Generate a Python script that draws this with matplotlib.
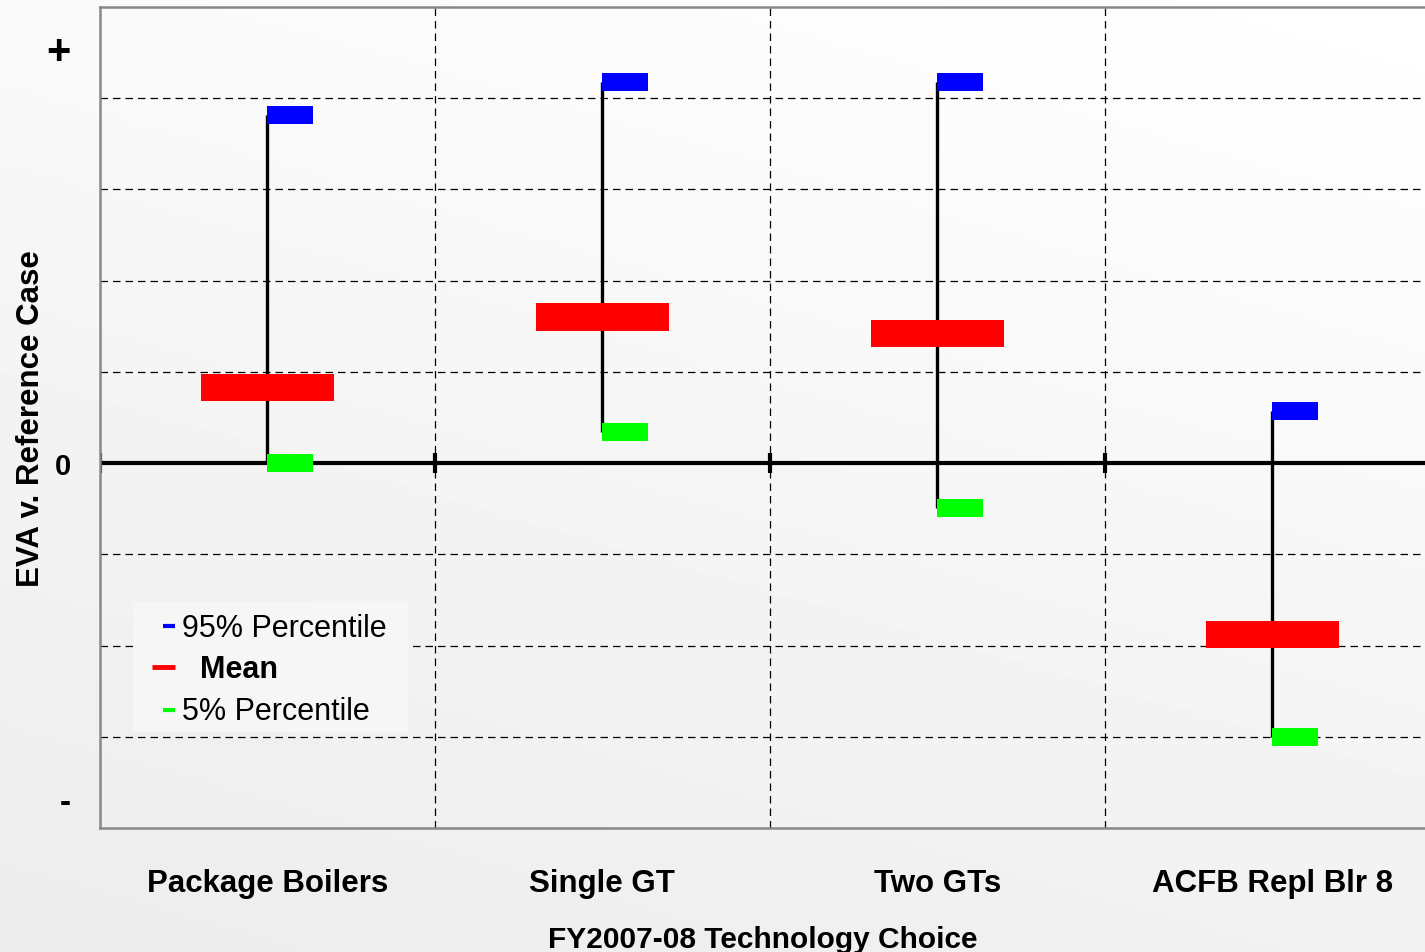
"""EVA v. reference case range chart (5% / mean / 95%) per technology choice."""
import numpy as np
import matplotlib
matplotlib.use("Agg")
import matplotlib.pyplot as plt

plt.rcParams["font.family"] = ["Liberation Sans", "DejaVu Sans"]

categories = ["Package Boilers", "Single GT", "Two GTs", "ACFB Repl Blr 8"]
p95 = [3.82, 4.18, 4.18, 0.57]
mean = [0.83, 1.60, 1.42, -1.88]
p5 = [0.0, 0.34, -0.49, -3.0]
ytick_vals = [4.56, 0.0, -3.68]
ytick_labels = ["+", "0", "-"]
legend_labels = ["95% Percentile", "Mean", "5% Percentile"]

W, H = 1425, 953
fig = plt.figure(figsize=(W / 100, H / 100), dpi=100)

# soft grey gradient backdrop
bg = fig.add_axes([0, 0, 1, 1], zorder=-10)
yy, xx = np.mgrid[0:1:200j, 0:1:300j]
shade = 1.0 - 0.075 * (0.7 * yy + 0.3 * (1 - xx))
bg.imshow(shade, cmap="gray", vmin=0, vmax=1, aspect="auto", extent=[0, 1, 0, 1])
bg.set_axis_off()


def fx(px):
    return (px - 100) / 1325


def fy(py):
    return (829 - py) / 821


ax = fig.add_axes([100 / W, 1 - 829 / H, 1325 / W, 821 / H])
ax.set_facecolor("none")
ax.set_xlim(-0.5, 3.456)
ax.set_ylim(-4, 5)

x = np.arange(len(categories))

# grid
for gy in [-3, -2, -1, 1, 2, 3, 4]:
    ax.axhline(gy, color="black", lw=0.9, ls=(0, (6, 4)), zorder=1)
for gx in [0.5, 1.5, 2.5]:
    ax.axvline(gx, color="black", lw=0.9, ls=(0, (6, 4)), zorder=1)

# zero line with category ticks
ax.axhline(0, color="black", lw=3, zorder=2)
ax.vlines([-0.5, 0.5, 1.5, 2.5], -0.11, 0.11, color="black", lw=3, zorder=2)

# whiskers and markers
ax.vlines(x, p5, p95, color="black", lw=2.4, zorder=3)
ax.bar(x, 0.3, bottom=np.array(mean) - 0.15, width=0.397, color="#ff0000", zorder=4)
ax.bar(x + 0.0685, 0.2, bottom=np.array(p95) - 0.1, width=0.137, color="#0000ff", zorder=4)
ax.bar(x + 0.0685, 0.2, bottom=np.array(p5) - 0.1, width=0.137, color="#00ff00", zorder=4)

# axes styling
for s in ["left", "top", "bottom"]:
    ax.spines[s].set_color("#888888")
    ax.spines[s].set_linewidth(1.8)
ax.spines["right"].set_visible(False)
ax.set_xticks(x)
ax.set_xticklabels(categories, fontsize=22.5, fontweight="bold")
ax.set_yticks(ytick_vals)
ax.set_yticklabels(ytick_labels, fontweight="bold")
for lab, size in zip(ax.get_yticklabels(), [30, 21, 24]):
    lab.set_fontsize(size)
ax.tick_params(axis="both", length=0)
ax.tick_params(axis="x", pad=29)
ax.tick_params(axis="y", pad=21)
ax.set_xlabel("FY2007-08 Technology Choice", fontsize=21.5, fontweight="bold", labelpad=19)
ax.set_ylabel("EVA v. Reference Case", fontsize=22.5, fontweight="bold", labelpad=0)

# hand-drawn legend
ax.add_patch(plt.Rectangle((fx(133), fy(733)), fx(408) - fx(133), fy(603) - fy(733),
                           transform=ax.transAxes, facecolor="#f6f6f6", edgecolor="none", zorder=5))
ax.plot([fx(163), fx(175)], [fy(627)] * 2, transform=ax.transAxes, color="#0000ff", lw=3,
        solid_capstyle="butt", zorder=6)
ax.plot([fx(152), fx(175)], [fy(668)] * 2, transform=ax.transAxes, color="#ff0000", lw=3.5,
        solid_capstyle="butt", zorder=6)
ax.plot([fx(163), fx(175)], [fy(711)] * 2, transform=ax.transAxes, color="#00ff00", lw=3,
        solid_capstyle="butt", zorder=6)
ax.text(fx(182), fy(629), legend_labels[0], transform=ax.transAxes, fontsize=22, va="center", zorder=6)
ax.text(fx(200), fy(670), legend_labels[1], transform=ax.transAxes, fontsize=22,
        fontweight="bold", va="center", zorder=6)
ax.text(fx(182), fy(712), legend_labels[2], transform=ax.transAxes, fontsize=22, va="center", zorder=6)

fig.savefig("out.png", dpi=100)
